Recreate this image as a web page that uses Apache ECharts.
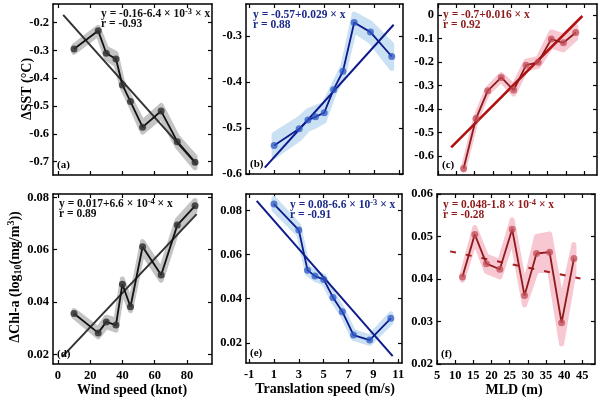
<!DOCTYPE html>
<html>
<head>
<meta charset="utf-8">
<script src="https://cdn.jsdelivr.net/npm/echarts@6/dist/echarts.min.js"></script>
<style>
  html, body { margin: 0; padding: 0; background: #fff; }
  #chart { width: 600px; height: 399px; }
</style>
</head>
<body>
<div id="chart"></div>
<script>
  // x values of the binned means
  const windSpeed = [10, 25, 30, 36, 40, 45, 52.5, 64, 74, 85]
  const transSpeed = [1.0, 3.0, 3.7, 4.3, 5.0, 5.75, 6.5, 7.4, 8.7, 10.4]
  const mld = [12, 15.4, 18.6, 22.3, 25.7, 29.1, 32.4, 36, 39.3, 42.7]

  // SST anomaly
  const sstWind = [-0.295, -0.229, -0.31, -0.331, -0.424, -0.484, -0.576, -0.518, -0.628, -0.702]
  const sstWindErr = [0.012, 0.012, 0.018, 0.02, 0.012, 0.012, 0.018, 0.02, 0.018, 0.02]
  const sstTrans = [-0.538, -0.502, -0.483, -0.476, -0.467, -0.417, -0.377, -0.271, -0.292, -0.345]
  const sstTransErr = [0.024, 0.022, 0.02, 0.02, 0.018, 0.01, 0.012, 0.018, 0.02, 0.026]
  const sstMld = [-0.652, -0.44, -0.322, -0.265, -0.319, -0.213, -0.201, -0.102, -0.118, -0.074]
  const sstMldErr = [0.008, 0.01, 0.01, 0.012, 0.017, 0.017, 0.017, 0.03, 0.03, 0.025]

  // Chl-a anomaly
  const chlWind = [0.0356, 0.0282, 0.0324, 0.0312, 0.0468, 0.0382, 0.0611, 0.0503, 0.0694, 0.0768]
  const chlWindErr = [0.0012, 0.0015, 0.0018, 0.002, 0.002, 0.0015, 0.002, 0.002, 0.002, 0.002]
  const chlTrans = [0.083, 0.0712, 0.053, 0.0503, 0.0488, 0.0406, 0.0341, 0.0235, 0.0212, 0.0311]
  const chlTransErr = [0.0025, 0.002, 0.0015, 0.0015, 0.0015, 0.0015, 0.0015, 0.0015, 0.0015, 0.002]
  const chlMld = [0.0405, 0.0505, 0.0436, 0.0423, 0.0517, 0.0361, 0.046, 0.0463, 0.0297, 0.0448]
  const chlMldErr = [0.0008, 0.0016, 0.0018, 0.0018, 0.0022, 0.0022, 0.004, 0.0043, 0.005, 0.0033]

  // fitted lines, read at their two ends
  const fitSstWind = [[3.3, -0.172], [86, -0.71]]
  const fitSstTrans = [[0.25, -0.586], [10.55, -0.276]]
  const fitSstMld = [[8.6, -0.563], [44.5, -0.004]]
  const fitChlWind = [[2.7, 0.019], [86, 0.0736]]
  const fitChlTrans = [[-0.39, 0.0845], [10.55, 0.0139]]
  const fitChlMld = [[8.6, 0.0465], [44.5, 0.0401]]

  // tick labels
  const windTicks = [0, 20, 40, 60, 80]
  const transTicks = [-1, 1, 3, 5, 7, 9, 11]
  const mldTicks = [5, 10, 15, 20, 25, 30, 35, 40, 45]
  const sstWindTicks = [-0.7, -0.6, -0.5, -0.4, -0.3, -0.2]
  const sstTransTicks = [-0.6, -0.5, -0.4, -0.3]
  const sstMldTicks = [-0.6, -0.5, -0.4, -0.3, -0.2, -0.1, 0]
  const chlTicks = [0.02, 0.04, 0.06, 0.08]
  const chlMldTicks = [0.02, 0.03, 0.04, 0.05, 0.06]

  const FONT = '"Liberation Serif"'
  const grey = { line: '#111', mark: 'rgba(50,50,50,0.85)', band: '#c4c4c4', fit: '#333', text: '#111' }
  const blue = { line: '#0c1a8c', mark: 'rgba(45,85,195,0.75)', band: '#c9e1f3', fit: '#0c1a8c', text: '#1b2a8a' }
  const red = { line: '#8e1b1b', mark: 'rgba(195,75,85,0.75)', band: '#f8c8d2', fit: '#b20f0f', text: '#8e1b1b' }

  const panels = [
    { box: [53, 4, 159, 171], xr: [-3, 95.5], yr: [-0.748, -0.133], xt: windTicks, yt: sstWindTicks, showX: false,
      x: windSpeed, y: sstWind, e: sstWindErr, fit: fitSstWind, c: grey, tag: '(a)',
      eq: ['y = -0.16-6.4 × 10', '-3', ' × x'], r: 'r = -0.93', eqPos: [101, 14] },
    { box: [246, 4, 157, 170], xr: [-1.25, 11.3], yr: [-0.6, -0.231], xt: transTicks, yt: sstTransTicks, showX: false,
      x: transSpeed, y: sstTrans, e: sstTransErr, fit: fitSstTrans, c: blue, tag: '(b)',
      eq: ['y = -0.57+0.029 × x'], r: 'r = 0.88', eqPos: [253, 15] },
    { box: [438, 4, 159, 171], xr: [5, 48.5], yr: [-0.68, 0.047], xt: mldTicks, yt: sstMldTicks, showX: false,
      x: mld, y: sstMld, e: sstMldErr, fit: fitSstMld, c: red, tag: '(c)', fitWidth: 2.5,
      eq: ['y = -0.7+0.016 × x'], r: 'r = 0.92', eqPos: [443, 15] },
    { box: [53, 194, 159, 170], xr: [-3, 95.5], yr: [0.0163, 0.0813], xt: windTicks, yt: chlTicks, showX: true,
      x: windSpeed, y: chlWind, e: chlWindErr, fit: fitChlWind, c: grey, tag: '(d)',
      eq: ['y = 0.017+6.6 × 10', '-4', ' × x'], r: 'r = 0.89', eqPos: [59, 204] },
    { box: [246, 194, 156, 169], xr: [-1.25, 11.3], yr: [0.0108, 0.0876], xt: transTicks, yt: chlTicks, showX: true,
      x: transSpeed, y: chlTrans, e: chlTransErr, fit: fitChlTrans, c: blue, tag: '(e)',
      eq: ['y = 0.08-6.6 × 10', '-3', ' × x'], r: 'r = -0.91', eqPos: [290, 205] },
    { box: [437, 194, 158, 170], xr: [5, 48.5], yr: [0.02, 0.06], xt: mldTicks, yt: chlMldTicks, showX: true,
      x: mld, y: chlMld, e: chlMldErr, fit: fitChlMld, c: Object.assign({}, red, { fit: '#a51e24' }), tag: '(f)', dashed: true,
      eq: ['y = 0.048-1.8 × 10', '-4', ' × x'], r: 'r = -0.28', eqPos: [443, 205] }
  ]

  const grid = [], xAxis = [], yAxis = [], series = [], graphic = []
  const axisLine = { show: true, onZero: false, lineStyle: { color: '#000', width: 1.5 } }
  const tickStyle = { color: '#000', width: 1.2 }
  const labelStyle = { fontFamily: 'Liberation Serif', fontWeight: 'bold', fontSize: 12.5, color: '#000' }

  panels.forEach((p, i) => {
    grid.push({ left: p.box[0], top: p.box[1], width: p.box[2], height: p.box[3] })
    // bottom / top x axes, left / right y axes
    ;[0, 1].forEach(k => {
      xAxis.push({
        type: 'value', gridIndex: i, position: k ? 'top' : 'bottom', min: p.xr[0], max: p.xr[1],
        axisLine: axisLine, splitLine: { show: false },
        axisTick: { show: true, inside: true, length: 4, lineStyle: tickStyle, customValues: p.xt },
        axisLabel: Object.assign({ show: !k && p.showX, margin: 5, customValues: p.xt,
          showMinLabel: true, showMaxLabel: true }, labelStyle)
      })
      yAxis.push({
        type: 'value', gridIndex: i, position: k ? 'right' : 'left', min: p.yr[0], max: p.yr[1],
        axisLine: axisLine, splitLine: { show: false },
        axisTick: { show: true, inside: true, length: 4, lineStyle: tickStyle, customValues: p.yt },
        axisLabel: Object.assign({ show: !k, margin: 4, customValues: p.yt,
          showMinLabel: true, showMaxLabel: true }, labelStyle)
      })
    })
    const ax = { xAxisIndex: 2 * i, yAxisIndex: 2 * i }
    // error band
    series.push(Object.assign({
      type: 'custom', silent: true, z: 1,
      data: p.x.map((v, k) => [v, p.y[k] - p.e[k], p.y[k] + p.e[k]]),
      encode: { x: 0, y: [1, 2] },
      renderItem: (params, api) => {
        if (params.dataIndex !== 0) return null
        const upper = p.x.map((v, k) => api.coord([v, p.y[k] + p.e[k]]))
        const lower = p.x.map((v, k) => api.coord([v, p.y[k] - p.e[k]])).reverse()
        return {
          type: 'polygon',
          shape: { points: upper.concat(lower) },
          style: { fill: p.c.band, stroke: p.c.band, lineWidth: 5, lineJoin: 'round' }
        }
      }
    }, ax))
    // fitted line
    series.push(Object.assign({
      type: 'line', data: p.fit, symbol: 'none', z: 2, silent: true,
      lineStyle: { color: p.c.fit, width: p.fitWidth || 2, type: p.dashed ? [6, 10] : 'solid' }
    }, ax))
    // binned means
    series.push(Object.assign({
      type: 'line', data: p.x.map((v, k) => [v, p.y[k]]), z: 3, silent: true,
      symbol: 'circle', symbolSize: 7,
      itemStyle: { color: p.c.mark },
      lineStyle: { color: p.c.line, width: 1.8 }
    }, ax))

    const eqText = p.eq.length > 1 ? '{t|' + p.eq[0] + '}{s|' + p.eq[1] + '}{t|' + p.eq[2] + '}' : '{t|' + p.eq[0] + '}'
    graphic.push({
      type: 'text', x: p.eqPos[0], y: p.eqPos[1], z: 10,
      style: {
        text: eqText, verticalAlign: 'middle', fill: p.c.text,
        rich: {
          t: { font: 'bold 11.5px ' + FONT, fill: p.c.text, lineHeight: 13 },
          s: { font: 'bold 8.5px ' + FONT, fill: p.c.text, lineHeight: 7, verticalAlign: 'top' }
        }
      }
    })
    graphic.push({
      type: 'text', x: p.eqPos[0], y: p.eqPos[1] + 10, z: 10,
      style: { text: p.r, verticalAlign: 'middle', font: 'bold 11.5px ' + FONT, fill: p.c.text }
    })
    graphic.push({
      type: 'text', x: p.box[0] + 4, y: p.box[1] + p.box[3] - 10, z: 10,
      style: { text: p.tag, font: 'bold 11px ' + FONT, fill: '#000', verticalAlign: 'middle' }
    })
  })

  const titleStyle = { font: 'bold 14px ' + FONT, fill: '#000', align: 'center', verticalAlign: 'middle' }
  graphic.push(
    { type: 'text', x: 27, y: 89, rotation: Math.PI / 2, style: Object.assign({ text: 'ΔSST (°C)' }, titleStyle) },
    { type: 'text', x: 15, y: 277, rotation: Math.PI / 2,
      style: {
        text: '{t|ΔChl-a (log}{b|10}{t|(mg/m}{s|3}{t|))}', align: 'center', verticalAlign: 'middle',
        rich: {
          t: { font: 'bold 14px ' + FONT, fill: '#000', lineHeight: 17 },
          b: { font: 'bold 10px ' + FONT, fill: '#000', lineHeight: 9, verticalAlign: 'bottom' },
          s: { font: 'bold 10px ' + FONT, fill: '#000', lineHeight: 9, verticalAlign: 'top' }
        }
      } },
    { type: 'text', x: 132, y: 390, style: Object.assign({ text: 'Wind speed (knot)' }, titleStyle) },
    { type: 'text', x: 325, y: 389, style: Object.assign({ text: 'Translation speed (m/s)' }, titleStyle) },
    { type: 'text', x: 514, y: 390, style: Object.assign({ text: 'MLD (m)' }, titleStyle) }
  )

  const chart = echarts.init(document.getElementById('chart'), null, { renderer: 'canvas' })
  chart.setOption({
    animation: false,
    backgroundColor: '#fff',
    grid, xAxis, yAxis, series, graphic
  })
</script>
</body>
</html>
